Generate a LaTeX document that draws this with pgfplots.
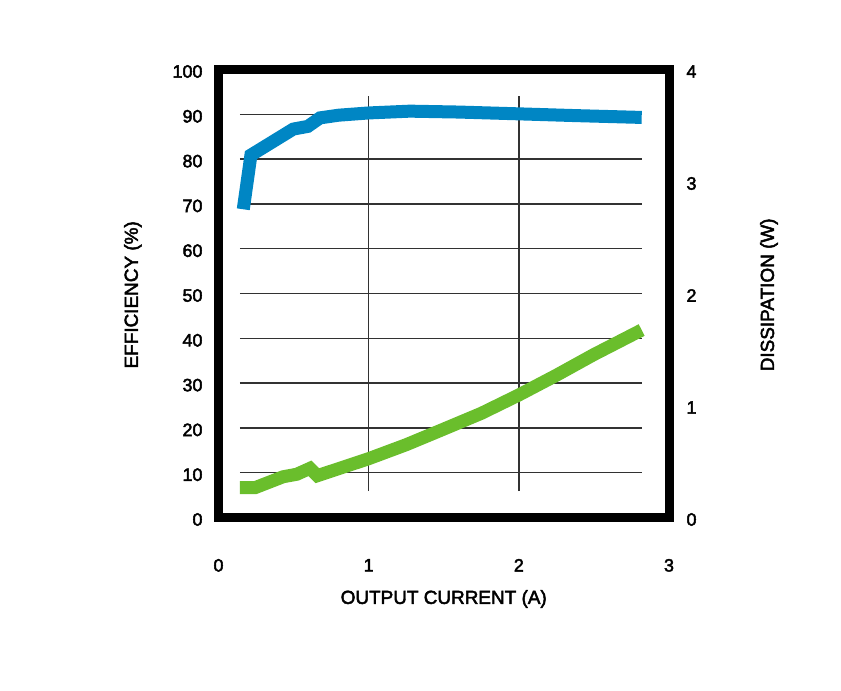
\documentclass[border=0pt]{standalone}
\usepackage{fontspec}
\setmainfont{Liberation Sans}
\newfontfamily\reffont{Liberation Sans}[FakeBold=2.5]
\usepackage{pgfplots}
\pgfplotsset{compat=1.18}
\definecolor{effblue}{RGB}{0,134,196}
\definecolor{dissgreen}{RGB}{106,190,44}
\definecolor{gridgray}{RGB}{50,50,50}
\begin{document}
\begin{tikzpicture}
\useasboundingbox (0,0) rectangle (841bp,691bp);
\pgfplotsset{
 common/.style={
  at={(218.5bp,173.5bp)}, anchor=south west,
  scale only axis, width=450.5bp, height=448bp,
  xmin=0, xmax=3,
  major tick length=0pt,
  tick label style={font=\reffont\fontsize{18}{21}\selectfont},
  /pgf/number format/assume math mode=true,
  yticklabel style={yshift=-2bp},
 }
}
\begin{axis}[common, ymin=0, ymax=100, ytick={0,10,...,100}, xtick={0,1,2,3},
  axis line style={line width=9bp, black},
  xticklabel shift=38bp, yticklabel shift=12.5bp,
  xlabel={OUTPUT CURRENT (A)}, ylabel={EFFICIENCY (\%)},
  every axis x label/.style={at={(axis description cs:0.5,-0.1819)}, anchor=center, font=\reffont\fontsize{19}{22}\selectfont},
  every axis y label/.style={at={(axis description cs:-0.19,0.497)}, anchor=center, rotate=90, font=\reffont\fontsize{19}{22}\selectfont},
]
% grid
\addplot[gridgray, line width=1.4bp, forget plot] coordinates {(0.143,10) (2.818,10)};
\addplot[gridgray, line width=1.4bp, forget plot] coordinates {(0.143,20) (2.818,20)};
\addplot[gridgray, line width=1.4bp, forget plot] coordinates {(0.143,30) (2.818,30)};
\addplot[gridgray, line width=1.4bp, forget plot] coordinates {(0.143,40) (2.818,40)};
\addplot[gridgray, line width=1.4bp, forget plot] coordinates {(0.143,50) (2.818,50)};
\addplot[gridgray, line width=1.4bp, forget plot] coordinates {(0.143,60) (2.818,60)};
\addplot[gridgray, line width=1.4bp, forget plot] coordinates {(0.143,70) (2.818,70)};
\addplot[gridgray, line width=1.4bp, forget plot] coordinates {(0.143,80) (2.818,80)};
\addplot[gridgray, line width=1.4bp, forget plot] coordinates {(0.143,90) (2.818,90)};
\addplot[gridgray, line width=1.4bp, forget plot] coordinates {(1,5.9) (1,94.1)};
\addplot[gridgray, line width=1.4bp, forget plot] coordinates {(2,5.9) (2,94.1)};
% efficiency
\addplot[effblue, line width=13bp] coordinates {
(0.165,68.8) (0.216,80.9) (0.498,86.7) (0.595,87.3) (0.676,89.2) (0.8,89.8)
(1.0,90.3) (1.275,90.7) (1.6,90.5) (2.0,90.1) (2.385,89.7) (2.818,89.3)};
\end{axis}
\begin{axis}[common, ymin=0, ymax=4, ytick={0,1,2,3,4},
  axis y line*=right, axis x line=none, axis line style={draw=none},
  yticklabel shift=14bp,
  ylabel={DISSIPATION (W)},
  every axis y label/.style={at={(axis description cs:1.222,0.497)}, anchor=center, rotate=90, font=\reffont\fontsize{19}{22}\selectfont},
]
\addplot[dissgreen, line width=13bp] coordinates {
(0.143,0.266) (0.243,0.266) (0.431,0.364) (0.521,0.386) (0.609,0.439) (0.658,0.373)
(1.0,0.525) (1.25,0.65) (1.453,0.763) (1.75,0.93) (2.0,1.094) (2.25,1.27)
(2.5,1.455) (2.818,1.674)};
\end{axis}
\end{tikzpicture}
\end{document}
